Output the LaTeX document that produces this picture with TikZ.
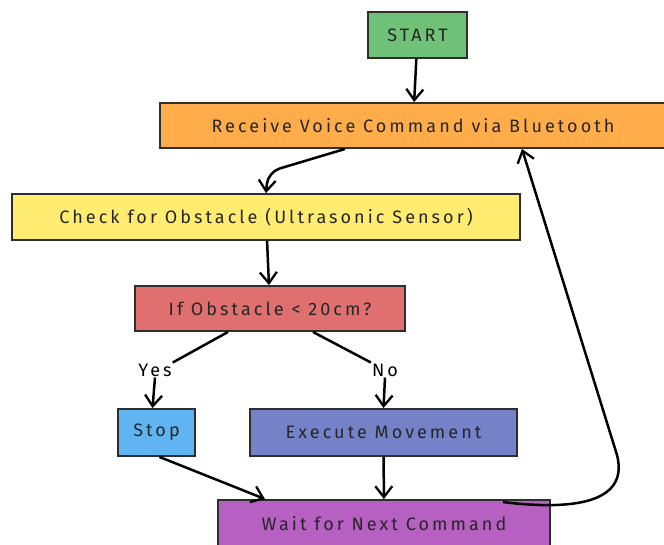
\documentclass[tikz,border=0pt]{standalone}
\usepackage{fontspec}
\setmainfont[LetterSpace=17]{Fira Sans}
\usetikzlibrary{arrows.meta}

\definecolor{startgreen}{HTML}{6EC177}
\definecolor{recvorange}{HTML}{FFAD4A}
\definecolor{checkyellow}{HTML}{FFEC70}
\definecolor{condred}{HTML}{E07070}
\definecolor{stopblue}{HTML}{60B4F2}
\definecolor{execblue}{HTML}{7582C8}
\definecolor{waitpurple}{HTML}{B660C2}
\definecolor{edge}{HTML}{2E2E2E}

\begin{document}
\begin{tikzpicture}[x=1pt,y=-1pt,
	box/.style = {draw=edge,line width=1.9pt,font=\fontsize{18}{21}\selectfont,text=black!85,inner sep=0pt},
	flow/.style = {draw=black,line width=2.5pt,-{Straight Barb[length=11pt,width=17pt,line width=2.3pt]}},
	answer/.style = {font=\fontsize{18}{20}\selectfont,inner sep=1pt}]
	\useasboundingbox (0,0) rectangle (664,544);

	\node[box,fill=startgreen,minimum width=99pt,minimum height=46pt] (start) at (417.5,35) {START};
	\node[box,fill=recvorange,minimum width=506pt,minimum height=45pt] (receive) at (413,125.5) {Receive Voice Command via Bluetooth};
	\node[box,fill=checkyellow,minimum width=508pt,minimum height=46pt] (check) at (266,217) {Check for Obstacle (Ultrasonic Sensor)};
	\node[box,fill=condred,minimum width=270pt,minimum height=45pt] (cond) at (270,308.5) {If Obstacle < 20cm?};
	\node[answer] (yes) at (155,370) {Yes};
	\node[answer] (no) at (385,370) {No};
	\node[box,fill=stopblue,minimum width=77pt,minimum height=47pt] (stop) at (156.5,432.5) {Stop};
	\node[box,fill=execblue,minimum width=267pt,minimum height=47pt] (exec) at (383.5,432.5) {Execute Movement};
	\node[box,fill=waitpurple,minimum width=332pt,minimum height=48pt] (wait) at (384,524) {Wait for Next Command};

	\coordinate (bend) at (268,172);
	\coordinate (loop) at (617,455);

	\draw[flow] (start) -- (receive);
	\draw[flow,rounded corners=12pt] ([xshift=-68]receive.south) -- (bend) -- (check.north);
	\draw[flow] (check) -- (cond);
	\draw[line width=2.5pt] ([xshift=-42]cond.south) -- (yes.north east);
	\draw[line width=2.5pt] ([xshift=43]cond.south) -- (no.north west);
	\draw[flow] (yes.south) -- ([xshift=-4]stop.north);
	\draw[flow] (no.south) -- (exec.north);
	\draw[flow] ([xshift=3]stop.south) -- ([xshift=-119]wait.north);
	\draw[flow] (exec) -- (wait);
	\draw[flow] ([xshift=119,yshift=-3]wait.north) .. controls (585,512) and (628,498) .. (loop) -- ([xshift=109]receive.south);
\end{tikzpicture}
\end{document}
